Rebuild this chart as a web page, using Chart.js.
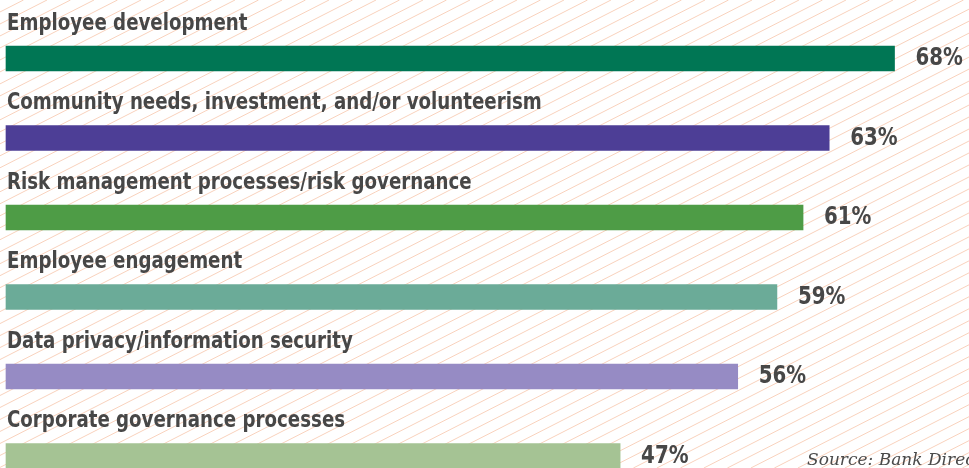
<!DOCTYPE html>
<html>
<head>
<meta charset="utf-8">
<title>Bank priorities</title>
<script src="https://cdn.jsdelivr.net/npm/chart.js@4.4.1/dist/chart.umd.min.js"></script>
<style>
  html, body { margin: 0; padding: 0; background: #fff; overflow: hidden; }
  #wrap { width: 969px; height: 468px; position: relative; }
</style>
</head>
<body>
<div id="wrap"><canvas id="bars" width="969" height="468"></canvas></div>
<script>
"use strict";

const categories = [
  'Employee development',
  'Community needs, investment, and/or volunteerism',
  'Risk management processes/risk governance',
  'Employee engagement',
  'Data privacy/information security',
  'Corporate governance processes'
];
const percents = [68, 63, 61, 59, 56, 47];
const valueLabels = ['68%', '63%', '61%', '59%', '56%', '47%'];
const barColors = ['#007654', '#4d3e96', '#4e9c46', '#6bab98', '#968bc4', '#a5c394'];
const sourceNote = 'Source: Bank Director';

const TEXT = '#474747';
const CONDENSED = '"DejaVu Sans Condensed", "DejaVu Sans", sans-serif';

// peach diagonal hatching behind everything
const stripes = {
  id: 'stripes',
  beforeDraw(chart) {
    const ctx = chart.ctx;
    const w = chart.width, h = chart.height;
    const slope = 0.51;
    const run = h / slope;
    ctx.save();
    ctx.fillStyle = '#fff';
    ctx.fillRect(0, 0, w, h);
    ctx.strokeStyle = '#f9d2bd';
    ctx.lineWidth = 1;
    ctx.beginPath();
    for (let x0 = -run; x0 < w + 24; x0 += 23.5) {
      ctx.moveTo(x0, h);
      ctx.lineTo(x0 + run, 0);
    }
    ctx.stroke();
    ctx.restore();
  }
};

// squeeze text sideways to get the narrow look of the original face
function narrowText(ctx, text, x, y, squeeze) {
  ctx.save();
  ctx.translate(x, y);
  ctx.scale(squeeze, 1);
  ctx.fillText(text, 0, 0);
  ctx.restore();
}

// category names above bars, percentages after bars, source note
const barText = {
  id: 'barText',
  afterDatasetsDraw(chart) {
    const ctx = chart.ctx;
    const meta = chart.getDatasetMeta(0);
    ctx.save();
    ctx.fillStyle = TEXT;
    ctx.textBaseline = 'alphabetic';
    ctx.textAlign = 'left';
    meta.data.forEach(function(bar, i) {
      const top = bar.y - bar.height / 2;
      ctx.font = 'bold 23px ' + CONDENSED;
      narrowText(ctx, categories[i], 7, top - 16.5, 0.88);
      ctx.font = 'bold 25px ' + CONDENSED;
      narrowText(ctx, valueLabels[i], bar.x + 21, bar.y + 6.5, 0.88);
    });
    ctx.font = 'italic 17px "DejaVu Serif", Georgia, serif';
    ctx.fillStyle = '#4a4a4a';
    ctx.fillText(sourceNote, 807, 465);
    ctx.restore();
  }
};

const ctx = document.getElementById('bars').getContext('2d');
const chart = new Chart(ctx, {
  type: 'bar',
  data: {
    labels: categories,
    datasets: [{
      data: percents,
      backgroundColor: barColors,
      borderWidth: 0,
      barThickness: 25,
      clip: false
    }]
  },
  options: {
    indexAxis: 'y',
    responsive: false,
    animation: false,
    devicePixelRatio: 1,
    layout: {
      padding: { left: 6, right: 0, top: 58.5, bottom: 12 }
    },
    scales: {
      x: {
        display: false,
        min: 0,
        max: 73.7
      },
      y: {
        display: false,
        offset: false
      }
    },
    plugins: {
      legend: { display: false },
      tooltip: { enabled: false }
    }
  },
  plugins: [stripes, barText]
});
</script>
</body>
</html>
